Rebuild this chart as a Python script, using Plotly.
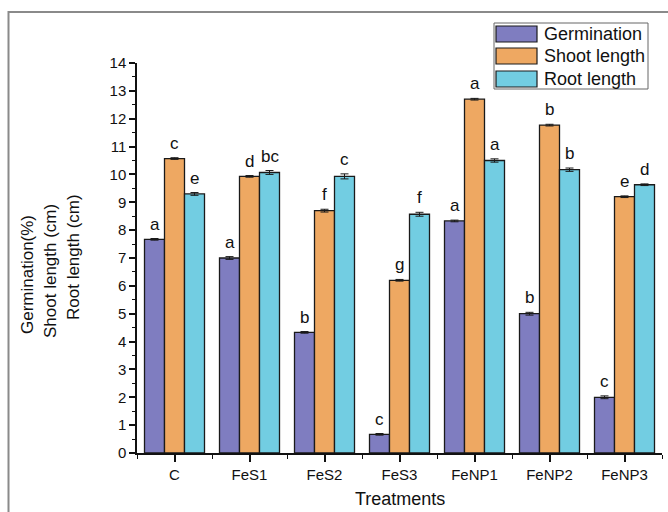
import plotly.graph_objects as go

# Treatments and measured values (means, error bars, significance letters)
treatments = ["C", "FeS1", "FeS2", "FeS3", "FeNP1", "FeNP2", "FeNP3"]
series_names = ["Germination", "Shoot length", "Root length"]
series_colors = ["#7F7DC0", "#EEA862", "#72CDE2"]

germination = [7.67, 7.00, 4.33, 0.67, 8.33, 5.00, 2.00]
shoot_length = [10.57, 9.93, 8.70, 6.20, 12.70, 11.77, 9.20]
root_length = [9.30, 10.07, 9.93, 8.57, 10.50, 10.17, 9.63]

germination_err = [0.03, 0.05, 0.03, 0.03, 0.03, 0.05, 0.05]
shoot_err = [0.03, 0.03, 0.05, 0.03, 0.03, 0.03, 0.03]
root_err = [0.05, 0.07, 0.09, 0.07, 0.06, 0.06, 0.03]

germination_letters = ["a", "a", "b", "c", "a", "b", "c"]
shoot_letters = ["c", "d", "f", "g", "a", "b", "e"]
root_letters = ["e", "bc", "c", "f", "a", "b", "d"]

y_ticks = list(range(0, 15))

values = [germination, shoot_length, root_length]
errors = [germination_err, shoot_err, root_err]
letters = [germination_letters, shoot_letters, root_letters]

# Plot area geometry (pixels)
W, H = 668, 512
L, R, T, B = 137, 6, 63, 59
PW, PH = W - L - R, H - T - B
BARGAP = 0.2


def px_x(px):
    return (px - L) / PW


def px_y(py):
    return (H - B - py) / PH


xpos = list(range(len(treatments)))
font_family = "Arial, Liberation Sans, sans-serif"

fig = go.Figure()
n_series = len(series_names)
bar_w = (1 - BARGAP) / n_series
for i, (name, color, vals, errs, labs) in enumerate(
        zip(series_names, series_colors, values, errors, letters)):
    fig.add_trace(go.Bar(
        x=xpos, y=vals, name=name,
        marker=dict(color=color, line=dict(color="#1a1a1a", width=1.3)),
        error_y=dict(type="data", array=errs, visible=True, color="#1a1a1a",
                     thickness=1, width=4),
        showlegend=False,
    ))
    # significance letters above each bar's error bar
    offset = (i - (n_series - 1) / 2) * bar_w
    for x, v, e, lab in zip(xpos, vals, errs, labs):
        fig.add_annotation(x=x + offset, y=v + e, text=lab, showarrow=False,
                           xanchor="center", yanchor="bottom", yshift=3,
                           font=dict(size=17, family=font_family, color="#111111"))

fig.update_layout(
    width=W, height=H,
    margin=dict(l=L, r=R, t=T, b=B),
    paper_bgcolor="white", plot_bgcolor="white",
    barmode="group", bargap=BARGAP, bargroupgap=0,
    font=dict(family=font_family, color="#111111"),
)

fig.update_xaxes(
    range=[-0.5, 6.5], tickmode="array", tickvals=xpos, ticktext=treatments,
    showgrid=False, zeroline=False,
    showline=True, linecolor="#111111", linewidth=1.5,
    ticks="outside", ticklen=7, tickwidth=1.5, tickcolor="#111111",
    tickfont=dict(size=15, family=font_family, color="#111111"),
    minor=dict(tickmode="linear", tick0=0.5, dtick=1, ticks="outside",
               ticklen=4, tickwidth=1.2, tickcolor="#111111"),
)
fig.update_yaxes(
    range=[0, 14], tickmode="array", tickvals=y_ticks,
    showgrid=False, zeroline=False,
    showline=True, linecolor="#111111", linewidth=1.5,
    ticks="outside", ticklen=6, tickwidth=1.5, tickcolor="#111111",
    tickfont=dict(size=15, family=font_family, color="#111111"),
    minor=dict(tickmode="linear", tick0=0.5, dtick=1, ticks="outside",
               ticklen=3, tickwidth=1.2, tickcolor="#111111"),
)

# Outer frame (left and top edges visible)
fig.add_shape(type="rect", xref="paper", yref="paper",
              x0=px_x(8.5), x1=px_x(700), y0=px_y(560), y1=px_y(12),
              line=dict(color="#8a8a8a", width=2), fillcolor="rgba(0,0,0,0)", layer="below")

# Multi-line y axis title
y_title_lines = ["Germination(%)", "Shoot length (cm)", "Root length (cm)"]
y_title_pos = [(27, 275), (50, 271), (73, 257)]
for text, (px, py) in zip(y_title_lines, y_title_pos):
    fig.add_annotation(text=text, xref="paper", yref="paper",
                       x=px_x(px), y=px_y(py), textangle=-90, showarrow=False,
                       xanchor="center", yanchor="middle",
                       font=dict(size=17, family=font_family, color="#111111"))

# x axis title
fig.add_annotation(text="Treatments", xref="paper", yref="paper",
                   x=px_x(400), y=px_y(499), showarrow=False,
                   xanchor="center", yanchor="middle",
                   font=dict(size=18, family=font_family, color="#111111"))

# Legend box with wide swatches
fig.add_shape(type="rect", xref="paper", yref="paper",
              x0=px_x(494), x1=px_x(648), y0=px_y(89), y1=px_y(23),
              line=dict(color="#666666", width=1), fillcolor="white")
row_centers = [34, 56, 79]
for name, color, cy in zip(series_names, series_colors, row_centers):
    fig.add_shape(type="rect", xref="paper", yref="paper",
                  x0=px_x(496), x1=px_x(537), y0=px_y(cy + 8), y1=px_y(cy - 8),
                  line=dict(color="#1a1a1a", width=1.2), fillcolor=color)
    fig.add_annotation(text=name, xref="paper", yref="paper",
                       x=px_x(542), y=px_y(cy), showarrow=False,
                       xanchor="left", yanchor="middle",
                       font=dict(size=18, family=font_family, color="#111111"))

fig.write_html("out.html")
